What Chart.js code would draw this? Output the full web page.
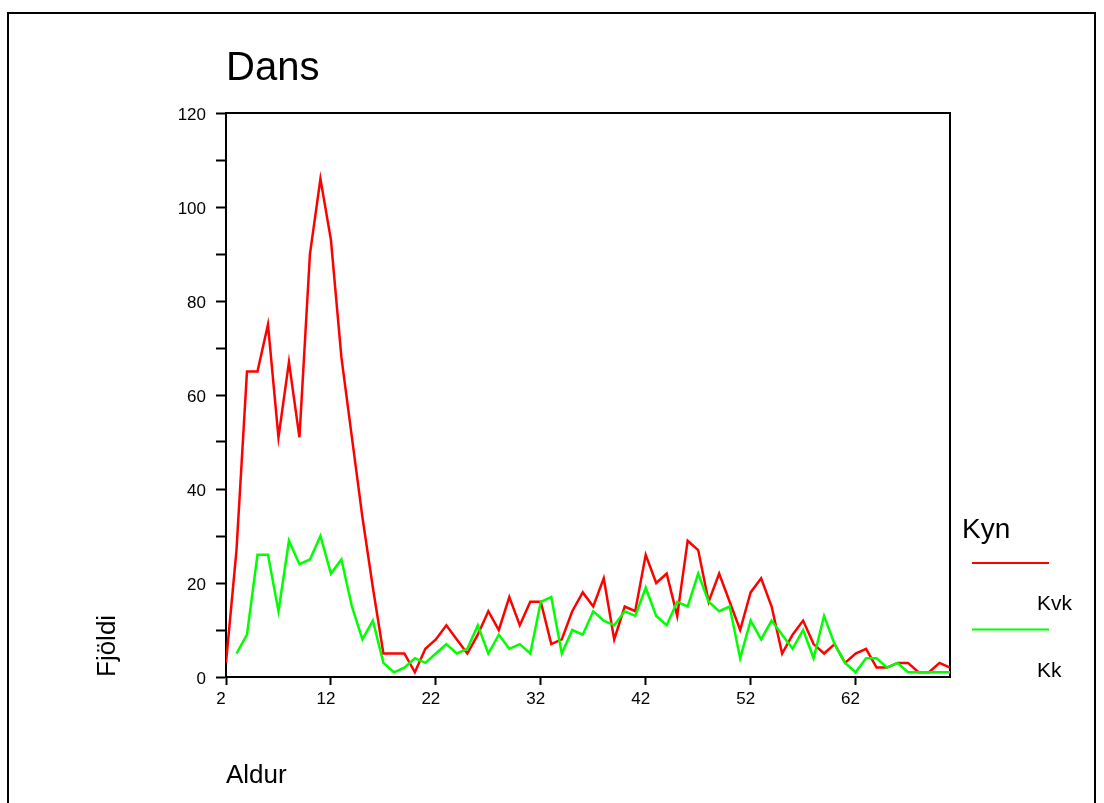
<!DOCTYPE html>
<html lang="is">
<head>
<meta charset="UTF-8">
<title>Dans</title>
<style>
  body { margin: 0; background: #fff; overflow: hidden; }
  #wrap { width: 1104px; height: 803px; }
</style>
</head>
<body>
<div id="wrap"><canvas id="myChart" width="1104" height="803"></canvas></div>
<script src="https://cdn.jsdelivr.net/npm/chart.js"></script>
<script>
// Aldur (age) categories and counts per kyn
const ages = [2, 3, 4, 5, 6, 7, 8, 9, 10, 11, 12, 13, 14, 15, 16, 17, 18, 19, 20, 21,
  22, 23, 24, 25, 26, 27, 28, 29, 30, 31, 32, 33, 34, 35, 36, 37, 38, 39, 40, 41,
  42, 43, 44, 45, 46, 47, 48, 49, 50, 51, 52, 53, 54, 55, 56, 57, 58, 59, 60, 61,
  62, 63, 64, 65, 66, 67, 68, 69, 70, 71];

const kvk = [3, 27, 65, 65, 75, 51, 67, 51, 90, 106,
  93, 68, 51, 34, 19, 5, 5, 5, 1, 6,
  8, 11, 8, 5, 9, 14, 10, 17, 11, 16,
  16, 7, 8, 14, 18, 15, 21, 8, 15, 14,
  26, 20, 22, 13, 29, 27, 16, 22, 16, 10,
  18, 21, 15, 5, 9, 12, 7, 5, 7, 3,
  5, 6, 2, 2, 3, 3, 1, 1, 3, 2];

const kk = [null, 5, 9, 26, 26, 14, 29, 24, 25, 30,
  22, 25, 15, 8, 12, 3, 1, 2, 4, 3,
  5, 7, 5, 6, 11, 5, 9, 6, 7, 5,
  16, 17, 5, 10, 9, 14, 12, 11, 14, 13,
  19, 13, 11, 16, 15, 22, 16, 14, 15, 4,
  12, 8, 12, 9, 6, 10, 4, 13, 7, 3,
  1, 4, 4, 2, 3, 1, 1, 1, 1, 1];

const xTicks = [2, 12, 22, 32, 42, 52, 62];
const chartTitle = 'Dans';
const legendTitle = 'Kyn';
const xTitle = 'Aldur';
const yTitle = 'Fjöldi';

const FONT = '"Liberation Sans", Arial, Helvetica, sans-serif';

function toPoints(values) {
  return ages.map((a, i) => ({ x: a, y: values[i] }));
}

// outer frame and plot box
const frames = {
  id: 'frames',
  beforeDraw(chart) {
    const ctx = chart.ctx;
    ctx.save();
    ctx.strokeStyle = '#000';
    ctx.lineWidth = 2;
    ctx.strokeRect(8, 13, 1087, 900);
    ctx.restore();
  },
  beforeDatasetsDraw(chart) {
    const { ctx, chartArea: a } = chart;
    ctx.save();
    ctx.strokeStyle = '#000';
    ctx.lineWidth = 2;
    ctx.strokeRect(a.left, a.top, a.right - a.left, a.bottom - a.top);
    ctx.restore();
  }
};

// SPSS style legend: heading, line, label under the line
const kynLegend = {
  id: 'kynLegend',
  afterDraw(chart) {
    const ctx = chart.ctx;
    ctx.save();
    ctx.fillStyle = '#000';
    ctx.textBaseline = 'alphabetic';
    ctx.font = '28px ' + FONT;
    ctx.fillText(legendTitle, 962, 538);
    ctx.font = '21px ' + FONT;
    chart.data.datasets.forEach((ds, i) => {
      const y = 563 + i * 66.5;
      ctx.strokeStyle = ds.borderColor;
      ctx.lineWidth = 2;
      ctx.beginPath();
      ctx.moveTo(972, y);
      ctx.lineTo(1049, y);
      ctx.stroke();
      ctx.fillText(ds.label, 1037, y + 47);
    });
    ctx.restore();
  }
};

const ctx = document.getElementById('myChart').getContext('2d');
const myChart = new Chart(ctx, {
  type: 'line',
  data: {
    datasets: [
      {
        label: 'Kvk',
        data: toPoints(kvk),
        borderColor: '#ff0000',
        borderWidth: 2.5,
        pointRadius: 0,
        tension: 0,
        fill: false,
        order: 1
      },
      {
        label: 'Kk',
        data: toPoints(kk),
        borderColor: '#00ff00',
        borderWidth: 2.5,
        pointRadius: 0,
        tension: 0,
        fill: false,
        order: 0
      }
    ]
  },
  options: {
    responsive: false,
    animation: false,
    layout: { padding: { left: 0, top: 45, right: 154, bottom: 0 } },
    plugins: {
      legend: { display: false },
      tooltip: { enabled: false },
      title: {
        display: true,
        text: chartTitle,
        align: 'start',
        fullSize: false,
        color: '#000',
        font: { family: FONT, size: 40, weight: 'normal', lineHeight: 1.2 },
        padding: { top: 0, bottom: 20 }
      }
    },
    scales: {
      x: {
        type: 'linear',
        min: 2,
        max: 71,
        afterBuildTicks: (scale) => {
          scale.ticks = xTicks.map(v => ({ value: v }));
        },
        afterFit: (scale) => { scale.height = 126; },
        grid: {
          drawOnChartArea: false,
          drawTicks: true,
          tickLength: 8,
          tickWidth: 2,
          tickColor: '#000'
        },
        border: { display: true, color: '#000', width: 2 },
        ticks: {
          color: '#000',
          padding: 4,
          labelOffset: -5,
          maxRotation: 0,
          autoSkip: false,
          font: { family: FONT, size: 17 }
        },
        title: {
          display: true,
          text: xTitle,
          align: 'start',
          color: '#000',
          font: { family: FONT, size: 26 },
          padding: { top: 0, bottom: 12 }
        }
      },
      y: {
        min: 0,
        max: 120,
        afterFit: (scale) => { scale.width = 226; },
        grid: {
          drawOnChartArea: false,
          drawTicks: true,
          tickLength: 10,
          tickWidth: 2,
          tickColor: '#000'
        },
        border: { display: true, color: '#000', width: 2 },
        ticks: {
          stepSize: 10,
          color: '#000',
          padding: 10,
          labelOffset: 2,
          font: { family: FONT, size: 17 },
          callback: (v) => (v % 20 === 0 ? String(v) : '')
        },
        title: {
          display: true,
          text: yTitle,
          align: 'start',
          color: '#000',
          font: { family: FONT, size: 26 },
          padding: { top: 92, bottom: 0 }
        }
      }
    }
  },
  plugins: [frames, kynLegend]
});
</script>
</body>
</html>
